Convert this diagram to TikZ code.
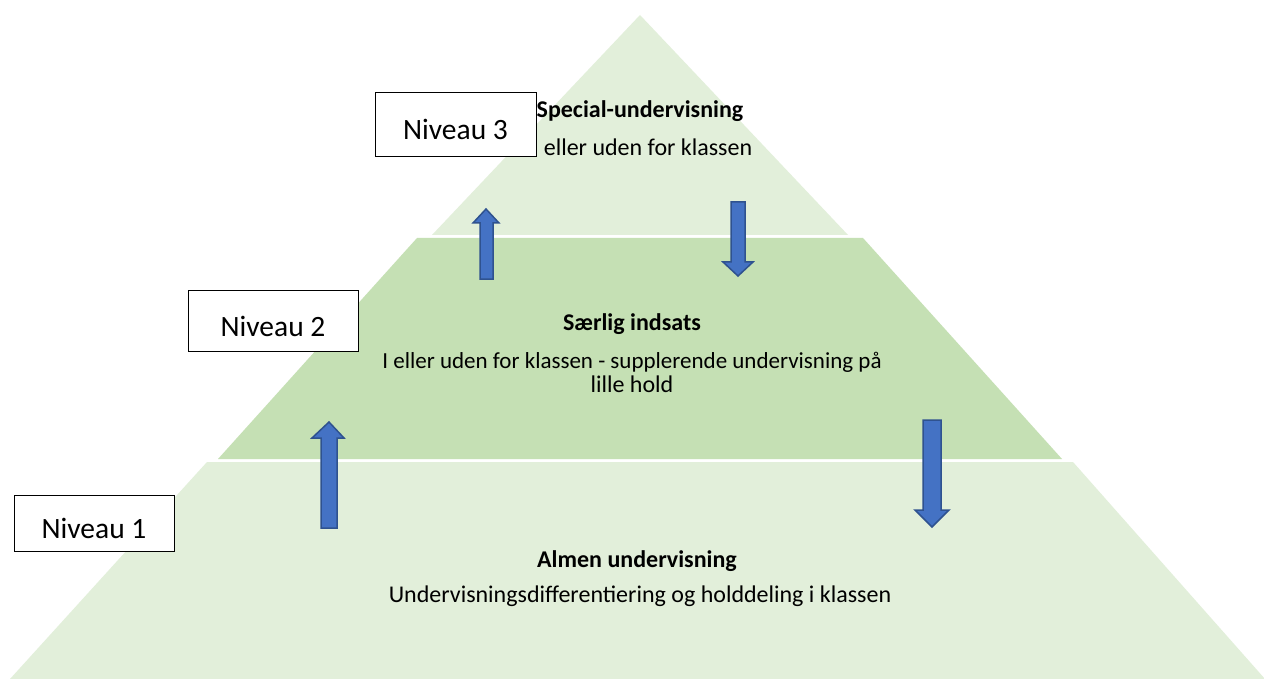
\documentclass[tikz,border=0pt]{standalone}
\usepackage{fontspec}
\setmainfont{Carlito}
\definecolor{tierlight}{HTML}{E2EFDA}
\definecolor{tiermid}{HTML}{C5E0B4}
\definecolor{arrfill}{HTML}{4472C4}
\definecolor{arrline}{HTML}{2F528F}
\begin{document}
\begin{tikzpicture}[x=1pt,y=-1pt,
  blockarrow/.style={fill=arrfill,draw=arrline,line width=1.5pt,line join=miter},
  levelbox/.style={draw=black,line width=0.9pt,fill=white,minimum width=#1,inner sep=0pt,
     font=\fontsize{29.5}{31}\selectfont,text height=31pt,text depth=0pt},
  bodytext/.style={font=\fontsize{24}{29}\selectfont,anchor=base},
  headtext/.style={font=\fontsize{24}{29}\selectfont\bfseries,anchor=base}]
\useasboundingbox (0,0) rectangle (1264,679);
\fill[white] (0,0) rectangle (1264,679);
% tiers
\fill[tierlight] (640,15) -- (848,235) -- (432,235) -- cycle;
\fill[tiermid] (417,238) -- (863,238) -- (1062,459) -- (218,459) -- cycle;
\fill[tierlight] (207,462) -- (1073,462) -- (1265,679) -- (10,679) -- cycle;
% block arrows
\draw[blockarrow] (329,422) -- (344,438) -- (337,438) -- (337,528) -- (321,528) -- (321,438) -- (312,438) -- cycle;
\draw[blockarrow] (932,527) -- (949,510) -- (941,510) -- (941,420) -- (923,420) -- (923,510) -- (915,510) -- cycle;
\draw[blockarrow] (486,209) -- (499,223) -- (493,223) -- (493,279) -- (480,279) -- (480,223) -- (473,223) -- cycle;
\draw[blockarrow] (738,276) -- (753,262) -- (745,262) -- (745,202) -- (731,202) -- (731,262) -- (723,262) -- cycle;
% level boxes
\node[levelbox=161pt,minimum height=64pt] (n3) at (455.5,124) {Niveau 3\hspace{8pt}};
\node[levelbox=170pt,minimum height=61pt] (n2) at (273,320.5) {Niveau 2\hspace{14pt}};
\node[levelbox=160pt,minimum height=56pt,yshift=-3pt] (n1) at (94,520) {Niveau 1\hspace{12pt}};
% texts
\node[headtext] (t3a) at (640,118) {Special-undervisning};
\node[bodytext] (t3b) at (648,156) {eller uden for klassen};
\node[headtext] (t2a) at (632,330) {Særlig indsats};
\node[bodytext,font=\fontsize{23}{28}\selectfont] (t2b) at (632,368) {I eller uden for klassen - supplerende undervisning på};
\node[bodytext] (t2c) at (632,392) {lille hold};
\node[headtext] (t1a) at (637,567) {Almen undervisning};
\node[bodytext] (t1b) at (640,602) {Undervisningsdifferentiering og holddeling i klassen};
\end{tikzpicture}
\end{document}
